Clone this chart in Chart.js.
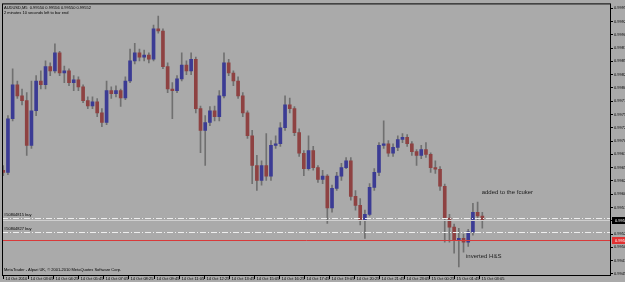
<!DOCTYPE html>
<html>
<head>
<meta charset="utf-8">
<script src="https://cdn.jsdelivr.net/npm/chart.js@4.4.1/dist/chart.umd.min.js"></script>
<style>
  html, body { margin: 0; padding: 0; background: #aaaaaa; }
  canvas { display: block; }
</style>
</head>
<body>
<canvas id="chart" width="625" height="282"></canvas>
<script>
// AUDUSD M5, 14-15 Oct 2010 (one candle per 15 min)
const opens = [
  0.99645,0.99641,0.99742,0.99806,0.99785,0.99776,0.99692,0.99757,0.99813,0.99806,
  0.99840,0.99832,0.99866,0.99828,0.99832,0.99810,0.99815,0.99802,0.99776,0.99766,
  0.99774,0.99753,0.99735,0.99795,0.99789,0.99795,0.99781,0.99813,0.99851,0.99866,
  0.99858,0.99862,0.99854,0.99911,0.99907,0.99840,0.99798,0.99795,0.99817,0.99843,
  0.99832,0.99854,0.99761,0.99720,0.99735,0.99757,0.99746,0.99785,0.99847,0.99828,
  0.99813,0.99785,0.99753,0.99710,0.99654,0.99626,0.99654,0.99634,0.99692,0.99695,
  0.99725,0.99768,0.99761,0.99716,0.99677,0.99648,0.99682,0.99650,0.99628,0.99634,
  0.99574,0.99611,0.99634,0.99650,0.99663,0.99596,0.99579,0.99551,0.99562,0.99613,
  0.99641,0.99692,0.99695,0.99677,0.99688,0.99703,0.99707,0.99695,0.99680,0.99673,
  0.99684,0.99675,0.99650,0.99647,0.99615,0.99555,0.99538,0.99514,0.99517,0.99510,
  0.99529,0.99566,0.99559
];
const highs = [
  0.99654,0.99748,0.99836,0.99813,0.99798,0.99791,0.99813,0.99823,0.99832,0.99851,
  0.99847,0.99883,0.99869,0.99841,0.99836,0.99823,0.99821,0.99806,0.99783,0.99783,
  0.99780,0.99761,0.99813,0.99802,0.99804,0.99798,0.99821,0.99873,0.99884,0.99873,
  0.99871,0.99866,0.99918,0.99935,0.99911,0.99847,0.99810,0.99823,0.99866,0.99851,
  0.99866,0.99858,0.99766,0.99748,0.99765,0.99766,0.99795,0.99866,0.99854,0.99832,
  0.99821,0.99791,0.99757,0.99720,0.99673,0.99663,0.99714,0.99701,0.99710,0.99735,
  0.99785,0.99781,0.99765,0.99723,0.99682,0.99710,0.99690,0.99654,0.99645,0.99637,
  0.99617,0.99641,0.99658,0.99669,0.99669,0.99607,0.99592,0.99570,0.99620,0.99648,
  0.99697,0.99738,0.99701,0.99695,0.99710,0.99714,0.99712,0.99699,0.99684,0.99692,
  0.99697,0.99678,0.99663,0.99652,0.99619,0.99562,0.99544,0.99536,0.99525,0.99534,
  0.99583,0.99585,0.99566
];
const lows = [
  0.99635,0.99637,0.99738,0.99780,0.99768,0.99673,0.99686,0.99748,0.99798,0.99798,
  0.99823,0.99828,0.99823,0.99810,0.99804,0.99795,0.99795,0.99772,0.99761,0.99761,
  0.99746,0.99727,0.99731,0.99780,0.99783,0.99765,0.99778,0.99810,0.99845,0.99851,
  0.99851,0.99847,0.99851,0.99903,0.99836,0.99791,0.99742,0.99791,0.99813,0.99825,
  0.99825,0.99753,0.99678,0.99654,0.99729,0.99738,0.99738,0.99781,0.99823,0.99804,
  0.99780,0.99746,0.99705,0.99620,0.99607,0.99617,0.99626,0.99626,0.99686,0.99690,
  0.99720,0.99753,0.99710,0.99671,0.99635,0.99645,0.99645,0.99622,0.99620,0.99545,
  0.99566,0.99607,0.99626,0.99648,0.99589,0.99570,0.99542,0.99517,0.99559,0.99607,
  0.99635,0.99686,0.99671,0.99671,0.99682,0.99697,0.99690,0.99673,0.99654,0.99667,
  0.99669,0.99641,0.99639,0.99607,0.99510,0.99510,0.99489,0.99463,0.99491,0.99502,
  0.99523,0.99551,0.99536
];
const closes = [
  0.99641,0.99742,0.99806,0.99785,0.99776,0.99692,0.99757,0.99813,0.99806,0.99840,
  0.99832,0.99866,0.99828,0.99832,0.99810,0.99815,0.99802,0.99776,0.99766,0.99774,
  0.99753,0.99735,0.99795,0.99789,0.99795,0.99781,0.99813,0.99851,0.99866,0.99858,
  0.99862,0.99854,0.99911,0.99907,0.99840,0.99798,0.99795,0.99817,0.99843,0.99832,
  0.99854,0.99761,0.99720,0.99735,0.99757,0.99746,0.99785,0.99847,0.99828,0.99813,
  0.99785,0.99753,0.99710,0.99654,0.99626,0.99654,0.99634,0.99692,0.99695,0.99725,
  0.99768,0.99761,0.99716,0.99677,0.99648,0.99682,0.99650,0.99628,0.99634,0.99574,
  0.99611,0.99634,0.99650,0.99663,0.99596,0.99579,0.99551,0.99562,0.99613,0.99641,
  0.99692,0.99695,0.99677,0.99688,0.99703,0.99707,0.99695,0.99680,0.99673,0.99684,
  0.99675,0.99650,0.99647,0.99615,0.99555,0.99538,0.99514,0.99517,0.99510,0.99529,
  0.99566,0.99559,0.99551
];

// time axis: one label every 80 minutes starting 14 Oct 01:45
const timeLabels = [
  '14 Oct 2010', '14 Oct 03:05', '14 Oct 04:25', '14 Oct 05:45', '14 Oct 07:05',
  '14 Oct 08:25', '14 Oct 09:45', '14 Oct 11:05', '14 Oct 12:25', '14 Oct 13:45',
  '14 Oct 15:05', '14 Oct 16:25', '14 Oct 17:45', '14 Oct 19:05', '14 Oct 20:25',
  '14 Oct 21:45', '14 Oct 23:05', '15 Oct 00:25', '15 Oct 01:45', '15 Oct 03:05'
];
const priceTicks = [
  0.99950, 0.99925, 0.99900, 0.99875, 0.99850, 0.99825, 0.99800, 0.99775, 0.99750,
  0.99725, 0.99700, 0.99675, 0.99650, 0.99625, 0.99600, 0.99575, 0.99550, 0.99525,
  0.99500, 0.99475, 0.99450
];

// order lines / prices
const orderPrices = [0.99555, 0.99529];
const orderNames = ['#50804815 buy', '#50804827 buy'];
const bidPrice = 0.99552;
const stopPrice = 0.99513;

const BULL = '#3b3b94';
const BEAR = '#8e4242';
const WICK = '#707070';
const BG = '#aaaaaa';
const FONT = 'Liberation Sans, Arial, sans-serif';

const minutes = closes.map((c, i) => i * 15);
const bodies = closes.map((c, i) => ({ x: minutes[i], y: [opens[i], c] }));
const wicks = closes.map((c, i) => ({ x: minutes[i], y: [lows[i], highs[i]] }));

const overlay = {
    id: 'overlay',
    beforeDraw(chart) {
        const ctx = chart.ctx;
        ctx.save();
        ctx.fillStyle = BG;
        ctx.fillRect(0, 0, chart.width, chart.height);
        ctx.restore();
    },
    afterDatasetsDraw(chart) {
        const { ctx, chartArea: a, scales: { x, y } } = chart;
        ctx.save();
        ctx.beginPath();
        ctx.rect(a.left, a.top, a.right - a.left, a.bottom - a.top);
        ctx.clip();

        // order lines (dash-dot)
        ctx.strokeStyle = '#eeeeee';
        ctx.lineWidth = 1;
        ctx.setLineDash([6, 2, 1, 2]);
        ctx.font = '4px ' + FONT;
        ctx.fillStyle = '#000';
        ctx.textBaseline = 'bottom';
        orderPrices.forEach((p, i) => {
            const py = Math.round(y.getPixelForValue(p)) + 0.5;
            ctx.beginPath();
            ctx.moveTo(a.left, py);
            ctx.lineTo(a.right, py);
            ctx.stroke();
            ctx.fillText(orderNames[i], a.left + 2, py - 2);
        });
        ctx.setLineDash([]);

        // bid line
        let py = Math.round(y.getPixelForValue(bidPrice)) + 0.5;
        ctx.strokeStyle = '#cfcfcf';
        ctx.beginPath();
        ctx.moveTo(a.left, py);
        ctx.lineTo(a.right, py);
        ctx.stroke();

        // stop line
        py = Math.round(y.getPixelForValue(stopPrice)) + 0.5;
        ctx.strokeStyle = '#d83a3a';
        ctx.beginPath();
        ctx.moveTo(a.left, py);
        ctx.lineTo(a.right, py);
        ctx.stroke();

        // notes written on the chart
        ctx.fillStyle = '#1e1e1e';
        ctx.font = '6px ' + FONT;
        ctx.textBaseline = 'middle';
        ctx.fillText('added to the fcuker', x.getPixelForValue(1528), y.getPixelForValue(0.99604));
        ctx.fillText('inverted H&S', x.getPixelForValue(1478), y.getPixelForValue(0.99484));

        // header + copyright
        ctx.fillStyle = '#000';
        ctx.font = '4px ' + FONT;
        ctx.textBaseline = 'top';
        ctx.fillText('AUDUSD,M5  0.99550 0.99556 0.99550 0.99552', a.left + 2, a.top + 2);
        ctx.fillText('2 minutes 10 seconds left to bar end', a.left + 2, a.top + 7);
        ctx.textBaseline = 'bottom';
        ctx.fillText('MetaTrader - Alpari UK, \u00a9 2001-2010 MetaQuotes Software Corp.', a.left + 2, a.bottom - 3);
        ctx.restore();

        // chart frame
        ctx.save();
        ctx.strokeStyle = '#000';
        ctx.lineWidth = 1;
        ctx.strokeRect(a.left + 0.5, a.top + 0.5, a.right - a.left - 1, a.bottom - a.top);
        ctx.restore();
    },
    afterDraw(chart) {
        const { ctx, chartArea: a, scales: { x, y } } = chart;
        ctx.save();
        // time labels, left aligned right after each tick mark
        ctx.font = '4px ' + FONT;
        ctx.fillStyle = '#000';
        ctx.strokeStyle = '#000';
        ctx.textBaseline = 'top';
        timeLabels.forEach((t, i) => {
            const px = Math.round(x.getPixelForValue(i * 80)) + 0.5;
            ctx.beginPath();
            ctx.moveTo(px, a.bottom);
            ctx.lineTo(px, a.bottom + 4);
            ctx.stroke();
            ctx.fillText(t, px + 2, a.bottom + 2);
        });
        // current price / stop boxes on the price axis
        ctx.textBaseline = 'middle';
        [[bidPrice, '#000000'], [stopPrice, '#e03030']].forEach(([p, col]) => {
            const py = Math.round(y.getPixelForValue(p));
            ctx.fillStyle = col;
            ctx.fillRect(a.right + 1, py - 3, chart.width - a.right, 7);
            ctx.fillStyle = '#fff';
            ctx.fillText(p.toFixed(5), a.right + 4, py + 0.5);
        });
        ctx.restore();
    }
};

new Chart(document.getElementById('chart'), {
    type: 'bar',
    data: {
        datasets: [
            {
                data: bodies,
                order: 0,
                grouped: false,
                barThickness: 3,
                minBarLength: 1,
                backgroundColor: closes.map((c, i) => c >= opens[i] ? BULL : BEAR)
            },
            {
                data: wicks,
                order: 1,
                grouped: false,
                barThickness: 1,
                backgroundColor: WICK
            }
        ]
    },
    options: {
        responsive: false,
        animation: false,
        devicePixelRatio: 1,
        events: [],
        layout: { padding: { left: 2, top: 2, right: 0, bottom: 0 } },
        plugins: { legend: { display: false }, tooltip: { enabled: false } },
        scales: {
            x: {
                type: 'linear',
                offset: false,
                min: -4,
                max: 1941,
                afterBuildTicks: (s) => { s.ticks = timeLabels.map((t, i) => ({ value: i * 80 })); },
                afterFit: (s) => { s.height = 7; },
                grid: { display: false },
                border: { display: false },
                ticks: { display: false }
            },
            y: {
                position: 'right',
                min: 0.99448,
                max: 0.99959,
                afterBuildTicks: (s) => { s.ticks = priceTicks.map(v => ({ value: v })); },
                afterFit: (s) => { s.width = 14; },
                grid: { drawOnChartArea: false, color: '#000', tickLength: 2 },
                border: { display: false },
                ticks: {
                    autoSkip: false,
                    padding: 1,
                    color: '#000',
                    font: { family: FONT, size: 4 },
                    callback: (v) => v.toFixed(5)
                }
            }
        }
    },
    plugins: [overlay]
});
</script>
</body>
</html>
